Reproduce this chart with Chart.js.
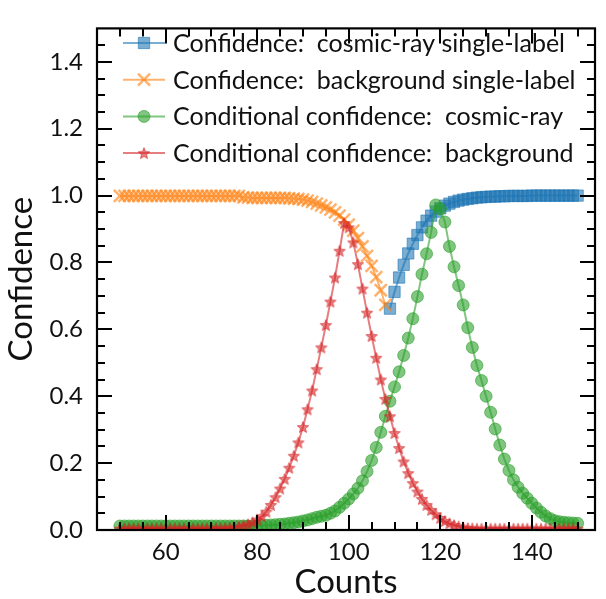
<!DOCTYPE html>
<html>
<head>
<meta charset="utf-8">
<script src="https://cdn.jsdelivr.net/npm/chart.js@4.4.0/dist/chart.umd.min.js"></script>
<style>
  html, body { margin: 0; padding: 0; background: #fff; }
</style>
</head>
<body>
<canvas id="chart" width="606" height="599"></canvas>
<script>
// counts on the x axis (one point per count)
const counts = [
  50, 51, 52, 53, 54, 55, 56, 57, 58, 59, 60, 61, 62, 63, 64, 65, 66, 67, 68, 69,
  70, 71, 72, 73, 74, 75, 76, 77, 78, 79, 80, 81, 82, 83, 84, 85, 86, 87, 88, 89,
  90, 91, 92, 93, 94, 95, 96, 97, 98, 99, 100, 101, 102, 103, 104, 105, 106, 107, 108, 109,
  110, 111, 112, 113, 114, 115, 116, 117, 118, 119, 120, 121, 122, 123, 124, 125, 126, 127, 128, 129,
  130, 131, 132, 133, 134, 135, 136, 137, 138, 139, 140, 141, 142, 143, 144, 145, 146, 147, 148, 149, 150
];

// background single-label: counts 50..108
const bgSingle = [
  0.999, 0.999, 0.999, 0.999, 0.999, 0.999, 0.999, 0.999, 0.999, 0.999,
  0.999, 0.999, 0.999, 0.999, 0.999, 0.999, 0.999, 0.999, 0.999, 0.999,
  0.999, 0.999, 0.999, 0.999, 0.999, 0.999, 0.999, 0.995, 0.994, 0.993,
  0.993, 0.993, 0.993, 0.993, 0.993, 0.993, 0.993, 0.992, 0.991, 0.990,
  0.988, 0.985, 0.981, 0.976, 0.971, 0.965, 0.958, 0.950, 0.940, 0.928,
  0.913, 0.895, 0.873, 0.848, 0.820, 0.790, 0.756, 0.717, 0.673
];

// cosmic-ray single-label: counts 109..150
const crSingle = [
  0.662, 0.712, 0.755, 0.793, 0.827, 0.856, 0.882, 0.905, 0.925, 0.940,
  0.952, 0.962, 0.970, 0.976, 0.981, 0.985, 0.988, 0.990, 0.992, 0.994,
  0.995, 0.996, 0.997, 0.997, 0.998, 0.998, 0.999, 0.999, 0.999, 0.999,
  0.999, 1.000, 1.000, 1.000, 1.000, 1.000, 1.000, 1.000, 1.000, 1.000,
  1.000, 1.000
];

// conditional confidence, cosmic-ray: counts 50..150
const condCr = [
  0.012, 0.012, 0.012, 0.012, 0.012, 0.012, 0.012, 0.012, 0.012, 0.012,
  0.012, 0.012, 0.012, 0.012, 0.012, 0.012, 0.012, 0.012, 0.012, 0.012,
  0.012, 0.012, 0.012, 0.012, 0.012, 0.012, 0.012, 0.012, 0.012, 0.012,
  0.012, 0.013, 0.014, 0.015, 0.016, 0.017, 0.018, 0.020, 0.022, 0.024,
  0.027, 0.030, 0.034, 0.038, 0.041, 0.044, 0.050, 0.057, 0.068, 0.080,
  0.093, 0.108, 0.125, 0.147, 0.175, 0.208, 0.247, 0.292, 0.340, 0.385,
  0.428, 0.473, 0.522, 0.574, 0.632, 0.698, 0.765, 0.826, 0.890, 0.972,
  0.960, 0.921, 0.848, 0.787, 0.731, 0.673, 0.605, 0.546, 0.492, 0.447,
  0.400, 0.352, 0.302, 0.254, 0.212, 0.178, 0.150, 0.128, 0.110, 0.095,
  0.080, 0.066, 0.053, 0.042, 0.034, 0.028, 0.025, 0.023, 0.022, 0.021, 0.020
];

// conditional confidence, background: counts 50..150
const condBg = [
  0.004, 0.004, 0.004, 0.004, 0.004, 0.004, 0.004, 0.004, 0.004, 0.004,
  0.004, 0.004, 0.004, 0.004, 0.004, 0.004, 0.004, 0.004, 0.004, 0.004,
  0.004, 0.005, 0.005, 0.005, 0.006, 0.008, 0.010, 0.013, 0.017, 0.023,
  0.031, 0.041, 0.055, 0.075, 0.098, 0.124, 0.153, 0.186, 0.222, 0.262,
  0.308, 0.361, 0.417, 0.481, 0.546, 0.613, 0.683, 0.755, 0.835, 0.918,
  0.905, 0.860, 0.795, 0.722, 0.650, 0.580, 0.515, 0.450, 0.392, 0.340,
  0.290, 0.245, 0.205, 0.170, 0.140, 0.115, 0.093, 0.075, 0.060, 0.047,
  0.036, 0.027, 0.020, 0.015, 0.011, 0.008, 0.006, 0.005, 0.004, 0.004,
  0.004, 0.004, 0.004, 0.004, 0.004, 0.004, 0.004, 0.004, 0.004, 0.004,
  0.004, 0.004, 0.004, 0.004, 0.004, 0.004, 0.004, 0.004, 0.004, 0.004, 0.004
];

const seriesNames = [
  'Confidence:  cosmic-ray single-label',
  'Confidence:  background single-label',
  'Conditional confidence:  cosmic-ray',
  'Conditional confidence:  background'
];

const xTicks = [60, 80, 100, 120, 140];
const yTicks = [0, 0.2, 0.4, 0.6, 0.8, 1.0, 1.2, 1.4];

const FONT = 'Lato';
const col = c => `rgba(${c},0.6)`;
const BLUE = '31,119,180', ORANGE = '255,127,14', GREEN = '44,160,44', RED = '214,39,40';

function pts(xs, ys) { return ys.map((v, i) => ({ x: xs[i], y: v })); }

// filled 5-point star like matplotlib '*'
function makeStar(size, rgb) {
  const c = document.createElement('canvas');
  c.width = c.height = size;
  const g = c.getContext('2d');
  const cx = size / 2, cy = size / 2 + 0.6, R = size / 2 - 1, r = R * 0.45;
  g.beginPath();
  for (let i = 0; i < 10; i++) {
    const rad = i % 2 ? r : R;
    const ang = -Math.PI / 2 + i * Math.PI / 5;
    g.lineTo(cx + rad * Math.cos(ang), cy + rad * Math.sin(ang));
  }
  g.closePath();
  g.fillStyle = `rgba(${rgb},0.6)`;
  g.fill();
  g.strokeStyle = `rgba(${rgb},0.6)`;
  g.lineWidth = 1;
  g.stroke();
  return c;
}
const star = makeStar(14, RED);

const datasets = [
  { label: seriesNames[0], data: pts(counts.slice(59), crSingle), order: 3,
    borderColor: col(BLUE), backgroundColor: col(BLUE), pointStyle: 'rect', pointRadius: 8, pointBorderWidth: 1 },
  { label: seriesNames[1], data: pts(counts, bgSingle), order: 2,
    borderColor: col(ORANGE), backgroundColor: col(ORANGE), pointStyle: 'crossRot', pointRadius: 8.5, pointBorderWidth: 2.5 },
  { label: seriesNames[2], data: pts(counts, condCr), order: 1,
    borderColor: col(GREEN), backgroundColor: col(GREEN), pointStyle: 'circle', pointRadius: 6, pointBorderWidth: 1 },
  { label: seriesNames[3], data: pts(counts, condBg), order: 0,
    borderColor: col(RED), backgroundColor: col(RED), pointStyle: star, pointRadius: 7, pointBorderWidth: 1 }
];
datasets.forEach(d => {
  d.borderWidth = 2;
  d.pointBorderColor = d.borderColor;
  d.pointBackgroundColor = d.backgroundColor;
  d.tension = 0;
  d.pointHoverRadius = d.pointRadius;
});

// inward ticks on all four sides plus the frame
const frameTicks = {
  id: 'frameTicks',
  afterDraw(chart) {
    const ctx = chart.ctx, a = chart.chartArea;
    const xs = chart.scales.x, ys = chart.scales.y;
    ctx.save();
    ctx.strokeStyle = '#000';
    ctx.lineWidth = 2;
    ctx.beginPath();
    for (let v = 45; v <= 155; v += 5) {
      const px = Math.round(xs.getPixelForValue(v));
      if (px <= a.left + 1 || px >= a.right - 1) continue;
      const len = v % 20 === 0 ? 15 : 8;
      ctx.moveTo(px, a.bottom); ctx.lineTo(px, a.bottom - len);
      ctx.moveTo(px, a.top); ctx.lineTo(px, a.top + len);
    }
    for (let i = 1; i < 30; i++) {
      const py = Math.round(ys.getPixelForValue(i * 0.05));
      const len = i % 4 === 0 ? 15 : 8;
      ctx.moveTo(a.left, py); ctx.lineTo(a.left + len, py);
      ctx.moveTo(a.right, py); ctx.lineTo(a.right - len, py);
    }
    ctx.stroke();
    ctx.lineWidth = 2.2;
    ctx.strokeRect(a.left, a.top, a.right - a.left, a.bottom - a.top);
    ctx.restore();
  }
};

// legend in the upper-left corner: line with marker in the middle
const insideLegend = {
  id: 'insideLegend',
  afterDraw(chart) {
    const ctx = chart.ctx;
    ctx.save();
    chart.data.datasets.forEach((d, i) => {
      const y = 43 + i * 36.7;
      ctx.strokeStyle = d.borderColor;
      ctx.lineWidth = 2;
      ctx.beginPath();
      ctx.moveTo(123, y); ctx.lineTo(165, y);
      ctx.stroke();
      ctx.fillStyle = d.backgroundColor;
      ctx.strokeStyle = d.borderColor;
      ctx.lineWidth = d.pointBorderWidth;
      Chart.helpers.drawPoint(ctx, { pointStyle: d.pointStyle, radius: d.pointRadius, rotation: 0, borderWidth: d.pointBorderWidth }, 144, y);
      ctx.fillStyle = '#111';
      ctx.font = `25px ${FONT}`;
      ctx.textBaseline = 'middle';
      ctx.fillText(d.label, 173, y + 1);
    });
    ctx.restore();
  }
};

new Chart(document.getElementById('chart'), {
  type: 'line',
  data: { datasets },
  plugins: [frameTicks, insideLegend],
  options: {
    responsive: false,
    animation: false,
    devicePixelRatio: 1,
    layout: { padding: { top: 11, right: 2, left: 0, bottom: 0 } },
    plugins: { legend: { display: false }, tooltip: { enabled: false } },
    scales: {
      x: {
        type: 'linear', min: 45, max: 153.8,
        afterFit: s => { s.height = 69; },
        afterBuildTicks: s => { s.ticks = xTicks.map(v => ({ value: v })); },
        grid: { display: false, drawTicks: false },
        border: { display: false },
        ticks: { color: '#111', font: { family: FONT, size: 24 }, padding: 8, maxRotation: 0 },
        title: { display: true, text: 'Counts', color: '#111', font: { family: FONT, size: 33, lineHeight: 1 }, padding: { top: 0, bottom: 0 } }
      },
      y: {
        type: 'linear', min: 0, max: 1.5,
        afterFit: s => { s.width = 97; },
        afterBuildTicks: s => { s.ticks = yTicks.map(v => ({ value: v })); },
        grid: { display: false, drawTicks: false },
        border: { display: false },
        ticks: { color: '#111', font: { family: FONT, size: 24 }, padding: 14, callback: v => v.toFixed(1) },
        title: { display: true, text: 'Confidence', color: '#111', font: { family: FONT, size: 33, lineHeight: 1 }, padding: { top: 5, bottom: 0 } }
      }
    }
  }
});
</script>
</body>
</html>
